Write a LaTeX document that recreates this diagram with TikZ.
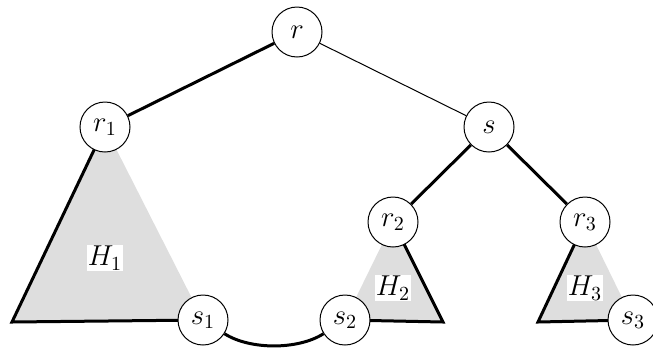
\documentclass[tikz,border=0pt]{standalone}
\begin{document}
\begin{tikzpicture}[x=0.5pt,y=-0.5pt,
  vtx/.style={circle,draw,line width=0.5pt,fill=white,minimum size=25pt,inner sep=0pt,font=\Large},
  lbl/.style={fill=white,inner sep=0.5pt,font=\Large},
  thk/.style={line width=1.5pt},
  tri/.style={fill=black!13}]
\useasboundingbox (0,0) rectangle (653,349);
% coordinates
\coordinate (b1) at (12,322);
\coordinate (b2) at (443,322);
\coordinate (b3) at (538,322);
\coordinate (pr) at (297,32);
\coordinate (pr1) at (105,127);
\coordinate (ps) at (489,127);
\coordinate (pr2) at (393,222);
\coordinate (pr3) at (585,222);
\coordinate (ps1) at (203,320);
\coordinate (ps2) at (345,320);
\coordinate (ps3) at (633,320);
% triangles
\fill[tri] (pr1) -- (b1) -- (ps1) -- cycle;
\fill[tri] (pr2) -- (ps2) -- (b2) -- cycle;
\fill[tri] (pr3) -- (b3) -- (ps3) -- cycle;
\draw[thk] (pr1) -- (b1) -- (ps1);
\draw[thk] (pr2) -- (b2) -- (ps2);
\draw[thk] (pr3) -- (b3) -- (ps3);
% nodes
\node[vtx] (r) at (pr) {$r$};
\node[vtx] (r1) at (pr1) {$r_1$};
\node[vtx] (s) at (ps) {$s$};
\node[vtx] (r2) at (pr2) {$r_2$};
\node[vtx] (r3) at (pr3) {$r_3$};
\node[vtx] (s1) at (ps1) {$s_1$};
\node[vtx] (s2) at (ps2) {$s_2$};
\node[vtx] (s3) at (ps3) {$s_3$};
% edges
\draw[thk] (r) -- (r1);
\draw[line width=0.5pt] (r) -- (s);
\draw[thk] (s) -- (r2);
\draw[thk] (s) -- (r3);
\draw[thk] (s1) .. controls (250,350) and (298,350) .. (s2);
% labels
\node[lbl] (h1) at (105,258) {$H_1$};
\node[lbl] (h2) at (393,288) {$H_2$};
\node[lbl] (h3) at (585,288) {$H_3$};
\end{tikzpicture}
\end{document}
